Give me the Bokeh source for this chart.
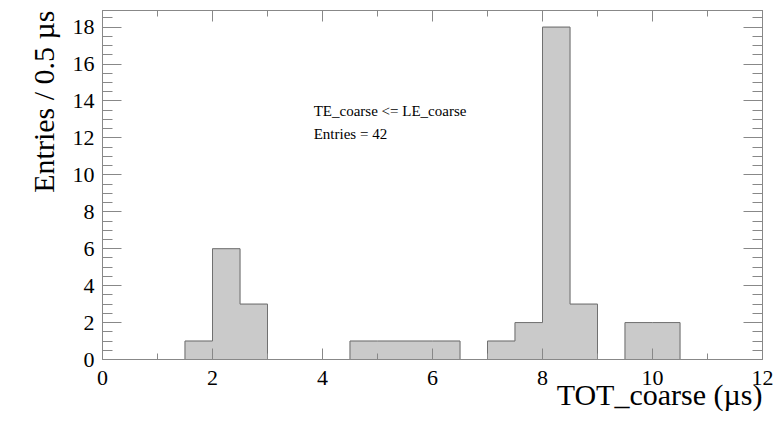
from bokeh.plotting import figure
from bokeh.models import Range1d, FixedTicker, LinearAxis, Label, ColumnDataSource, Title
from bokeh.embed import file_html
from bokeh.resources import INLINE

# --- data -------------------------------------------------------------
bin_edges = [0.0, 0.5, 1.0, 1.5, 2.0, 2.5, 3.0, 3.5, 4.0, 4.5, 5.0, 5.5, 6.0,
             6.5, 7.0, 7.5, 8.0, 8.5, 9.0, 9.5, 10.0, 10.5, 11.0, 11.5, 12.0]
counts = [0, 0, 0, 1, 6, 3, 0, 0, 0, 1, 1, 1, 1,
          0, 1, 2, 18, 3, 0, 2, 2, 0, 0, 0]
x_major = [0, 2, 4, 6, 8, 10, 12]
x_minor = [1, 3, 5, 7, 9, 11]
y_major = [0, 2, 4, 6, 8, 10, 12, 14, 16, 18]
y_minor = [v * 0.5 for v in range(0, 38)]
cut_text = "TE_coarse <= LE_coarse"
x_title = "TOT_coarse (µs)"
y_title = "Entries / 0.5 µs"

FONT = "Liberation Serif"
AX = "#888888"

p = figure(width=773, height=421, output_backend="svg", toolbar_location=None,
           x_range=Range1d(0, 12), y_range=Range1d(0, 18.9),
           min_border_left=102, min_border_right=11, min_border_top=10,
           min_border_bottom=62)
p.grid.visible = False
p.outline_line_color = "#aaaaaa"
p.background_fill_color = "white"
p.border_fill_color = "white"

src = ColumnDataSource(dict(left=bin_edges[:-1], right=bin_edges[1:], top=counts))
p.quad(left="left", right="right", top="top", bottom=0, source=src,
       fill_color="#cacaca", line_color="#cacaca", line_width=1)
p.step(x=bin_edges, y=counts + [counts[-1]], mode="after",
       line_color="#707070", line_width=1)


def style_axis(ax, major, minor, tin, tmin):
    ax.ticker = FixedTicker(ticks=major, minor_ticks=minor)
    ax.axis_line_color = AX
    ax.major_tick_line_color = AX
    ax.minor_tick_line_color = AX
    ax.major_tick_in = tin
    ax.major_tick_out = 0
    ax.minor_tick_in = tmin
    ax.minor_tick_out = 0
    ax.major_label_text_font = FONT
    ax.major_label_text_font_size = "22px"
    ax.major_label_text_color = "black"


def tick_only_axis(minor, tlen):
    ax = LinearAxis(ticker=FixedTicker(ticks=[], minor_ticks=minor))
    ax.axis_line_color = AX
    ax.minor_tick_line_color = AX
    ax.minor_tick_in = tlen
    ax.minor_tick_out = 0
    ax.major_tick_in = 0
    ax.major_tick_out = 0
    ax.major_label_standoff = 0
    ax.axis_label_standoff = 0
    return ax


xa = p.xaxis[0]
style_axis(xa, x_major, x_minor, 11, 6)
xa.major_label_standoff = 11

ya = p.yaxis[0]
style_axis(ya, y_major, y_minor, 19, 10)
ya.major_label_standoff = 8

p.add_layout(tick_only_axis(x_major, 11), "above")
p.add_layout(tick_only_axis(x_minor, 6), "above")
p.add_layout(tick_only_axis(y_major, 19), "right")
p.add_layout(tick_only_axis(y_minor, 10), "right")

# axis titles (ROOT style: right / top aligned)
p.add_layout(Title(text=x_title, align="right", vertical_align="bottom",
                   text_font=FONT, text_font_size="30px", text_font_style="normal",
                   text_color="black", standoff=-23), "below")
p.add_layout(Title(text=y_title, align="right", vertical_align="bottom",
                   text_font=FONT, text_font_size="30px", text_font_style="normal",
                   text_color="black", standoff=20), "left")

p.add_layout(Label(x=3.84, y=13.05, text=cut_text, text_font=FONT,
                   text_font_size="15px", text_color="black"))
p.add_layout(Label(x=3.84, y=11.8, text=f"Entries = {sum(counts)}", text_font=FONT,
                   text_font_size="15px", text_color="black"))

open("out.html", "w").write(file_html(p, INLINE))
